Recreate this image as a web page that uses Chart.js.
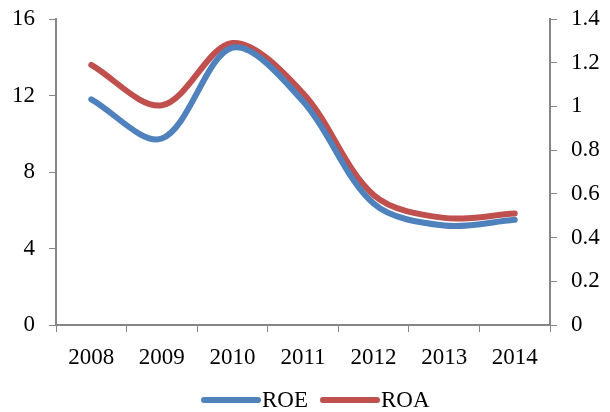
<!DOCTYPE html>
<html>
<head>
<meta charset="utf-8">
<script src="https://cdn.jsdelivr.net/npm/chart.js@4/dist/chart.umd.min.js"></script>
<style>
html,body{margin:0;padding:0;background:#fff;}
#wrap{width:610px;height:412px;position:relative;}
</style>
</head>
<body>
<div id="wrap"><canvas id="c" width="610" height="412"></canvas></div>
<script>
const categories = ['2008','2009','2010','2011','2012','2013','2014'];
const roeValues = [11.8, 9.75, 14.5, 11.7, 6.35, 5.2, 5.5];
const roaValues = [1.19, 1.005, 1.29, 1.06, 0.595, 0.49, 0.51];
const leftTicks = [0, 4, 8, 12, 16];
const rightTicks = [0, 0.2, 0.4, 0.6, 0.8, 1, 1.2, 1.4];

const FAMILY = '"Liberation Serif", "Times New Roman", serif';
const FONT = {family: FAMILY, size: 23};
const AXIS = '#868686';

const customLegend = {
  id: 'customLegend',
  afterDraw(chart) {
    const ctx = chart.ctx;
    const y = 400;
    const items = [{x0: 204, x1: 258, tx: 262}, {x0: 323, x1: 377, tx: 381}];
    ctx.save();
    chart.data.datasets.forEach((ds, i) => {
      const it = items[i];
      ctx.beginPath();
      ctx.lineCap = 'round';
      ctx.lineWidth = 6;
      ctx.strokeStyle = ds.borderColor;
      ctx.moveTo(it.x0, y);
      ctx.lineTo(it.x1, y);
      ctx.stroke();
      ctx.fillStyle = '#000';
      ctx.font = '23px ' + FAMILY;
      ctx.textBaseline = 'middle';
      ctx.textAlign = 'left';
      ctx.fillText(ds.label, it.tx, y + 1);
    });
    ctx.restore();
  }
};

new Chart(document.getElementById('c'), {
  type: 'line',
  data: {
    labels: categories,
    datasets: [
      {label: 'ROE', data: roeValues, yAxisID: 'y', borderColor: '#4F81BD', backgroundColor: '#4F81BD',
       borderWidth: 6, pointRadius: 0, tension: 0.33, borderCapStyle: 'round', fill: false},
      {label: 'ROA', data: roaValues, yAxisID: 'y1', borderColor: '#C0504D', backgroundColor: '#C0504D',
       borderWidth: 6, pointRadius: 0, tension: 0.33, borderCapStyle: 'round', fill: false}
    ]
  },
  options: {
    responsive: false,
    animation: false,
    layout: {padding: {left: 0, right: 0, top: 19, bottom: 42}},
    plugins: {
      tooltip: {enabled: false},
      legend: {display: false}
    },
    scales: {
      x: {
        offset: true,
        grid: {offset: true, drawOnChartArea: false, color: AXIS, tickLength: 7, tickColor: AXIS},
        border: {color: AXIS, width: 2},
        ticks: {font: FONT, color: '#000', padding: 12, maxRotation: 0},
        afterFit: s => { s.height = 45; s.paddingLeft = 0; s.paddingRight = 0; }
      },
      y: {
        position: 'left', min: 0, max: 16,
        afterBuildTicks: s => { s.ticks = leftTicks.map(v => ({value: v})); },
        grid: {drawOnChartArea: false, color: AXIS, tickLength: 7, tickColor: AXIS},
        border: {color: AXIS, width: 2},
        ticks: {font: FONT, color: '#000', padding: 14},
        afterFit: s => { s.width = 56; s.paddingTop = 0; s.paddingBottom = 0; }
      },
      y1: {
        position: 'right', min: 0, max: 1.4,
        afterBuildTicks: s => { s.ticks = rightTicks.map(v => ({value: v})); },
        grid: {drawOnChartArea: false, color: AXIS, tickLength: 7, tickColor: AXIS},
        border: {color: AXIS, width: 2},
        ticks: {font: FONT, color: '#000', padding: 14, callback: v => String(+v.toFixed(1))},
        afterFit: s => { s.width = 60; s.paddingTop = 0; s.paddingBottom = 0; }
      }
    }
  },
  plugins: [customLegend]
});
</script>
</body>
</html>
